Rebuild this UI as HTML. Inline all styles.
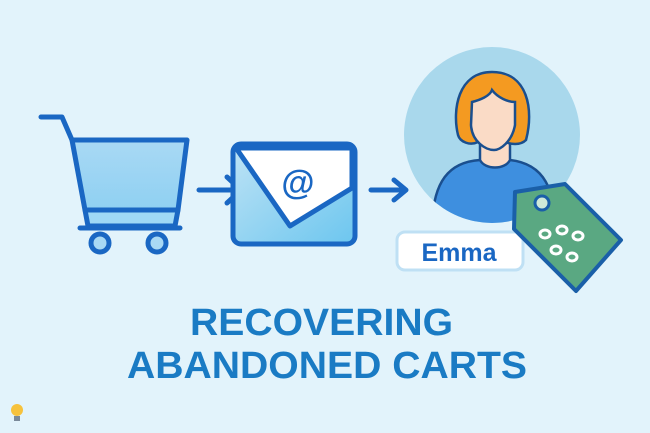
<!DOCTYPE html>
<html><head><meta charset="utf-8"><style>
html,body{margin:0;padding:0;background:#e2f3fb;}
svg{display:block}
</style></head><body>
<svg width="650" height="433" viewBox="0 0 650 433" xmlns="http://www.w3.org/2000/svg">
<defs>
<linearGradient id="env" x1="0" y1="0" x2="1" y2="1"><stop offset="0" stop-color="#bfe3f5"/><stop offset="1" stop-color="#6cc6ef"/></linearGradient>
<linearGradient id="cart" x1="0" y1="0" x2="0" y2="1"><stop offset="0" stop-color="#a9d9f4"/><stop offset="1" stop-color="#8fd0f2"/></linearGradient>
</defs>
<rect width="650" height="433" fill="#e2f3fb"/>
<!-- cart -->
<g stroke="#1a67c3" stroke-width="5" stroke-linejoin="round" stroke-linecap="round">
<path d="M41 117 L62 117 L72 140" fill="none"/>
<path d="M72 140 L187 140 L178 210 L85 210 Z" fill="url(#cart)"/>
<path d="M85 210 L178 210 L175 226 L88 226 Z" fill="#9fd8f5"/>
<line x1="80" y1="228" x2="180" y2="228"/>
<circle cx="100" cy="243" r="9" fill="#a9d9f4"/>
<circle cx="157" cy="243" r="9" fill="#a9d9f4"/>
</g>
<!-- arrows -->
<g stroke="#1a67c3" stroke-width="5" fill="none" stroke-linecap="round" stroke-linejoin="round">
<path d="M199 190 L240 190 M227 177 L241 190 L227 203"/>
<path d="M371 190 L405 190 M394 180 L406 190 L394 200"/>
</g>
<!-- envelope -->
<g stroke="#1a67c3" stroke-width="5" stroke-linejoin="round">
<rect x="233" y="144" width="122" height="100" rx="8" fill="url(#env)"/>
<path d="M236 148 L352 148 L352 188 L290 226 Z" fill="#fff"/>
</g>
<text x="298" y="194" font-family="Liberation Sans, sans-serif" font-size="34" font-weight="bold" fill="#1a67c3" text-anchor="middle">@</text>
<!-- avatar -->
<circle cx="492" cy="135" r="88" fill="#a9d8ec"/>
<clipPath id="cc"><circle cx="492" cy="135" r="88"/></clipPath>
<g clip-path="url(#cc)" stroke="#1a4f8f" stroke-width="2.5">
<path d="M432 230 C432 180 450 162 480 160 L510 160 C545 164 555 190 555 230 Z" fill="#3e8fdf"/>
<path d="M480 135 L480 160 C485 170 505 170 510 160 L510 135 Z" fill="#fadbc6"/>
<path d="M458 135 C452 110 458 72 492 72 C528 72 534 110 526 140 C520 146 510 144 505 142 L478 142 C470 146 460 142 458 135 Z" fill="#f49a21"/>
<path d="M472 102 C480 100 490 96 492 90 C498 98 508 102 515 102 L515 125 C512 142 500 150 494 150 C486 150 472 142 471 125 Z" fill="#fadbc6"/>
</g>
<!-- Emma label -->
<rect x="397" y="232" width="126" height="38" rx="8" fill="#fff" stroke="#bfe0f4" stroke-width="3"/>
<text x="459" y="261" font-family="Liberation Sans, sans-serif" font-size="25" font-weight="bold" fill="#1a67c3" text-anchor="middle">Emma</text>
<!-- tag -->
<path d="M515 192 L565 184 L621 240 L576 291 L514 229 Z" fill="#5aa882" stroke="#1a5fa8" stroke-width="4" stroke-linejoin="round"/>
<circle cx="542" cy="203" r="7" fill="#cfe9d8" stroke="#1a5fa8" stroke-width="3"/>
<g fill="none" stroke="#fff" stroke-width="3">
<ellipse cx="545" cy="234" rx="5" ry="4"/><ellipse cx="562" cy="230" rx="5" ry="4"/><ellipse cx="578" cy="236" rx="5" ry="4"/>
<ellipse cx="556" cy="250" rx="5" ry="4"/><ellipse cx="572" cy="257" rx="5" ry="4"/>
</g>
<!-- title -->
<g font-family="Liberation Sans, sans-serif" font-weight="bold" font-size="38" fill="#1a7bc4">
<text x="190" y="335" textLength="263" lengthAdjust="spacingAndGlyphs">RECOVERING</text>
<text x="127" y="378" textLength="400" lengthAdjust="spacingAndGlyphs">ABANDONED CARTS</text>
</g>
<!-- bulb -->
<circle cx="17" cy="410" r="6" fill="#f6c23c"/>
<rect x="14" y="416" width="6" height="5" fill="#7a8a9a"/>
</svg>
</body></html>
